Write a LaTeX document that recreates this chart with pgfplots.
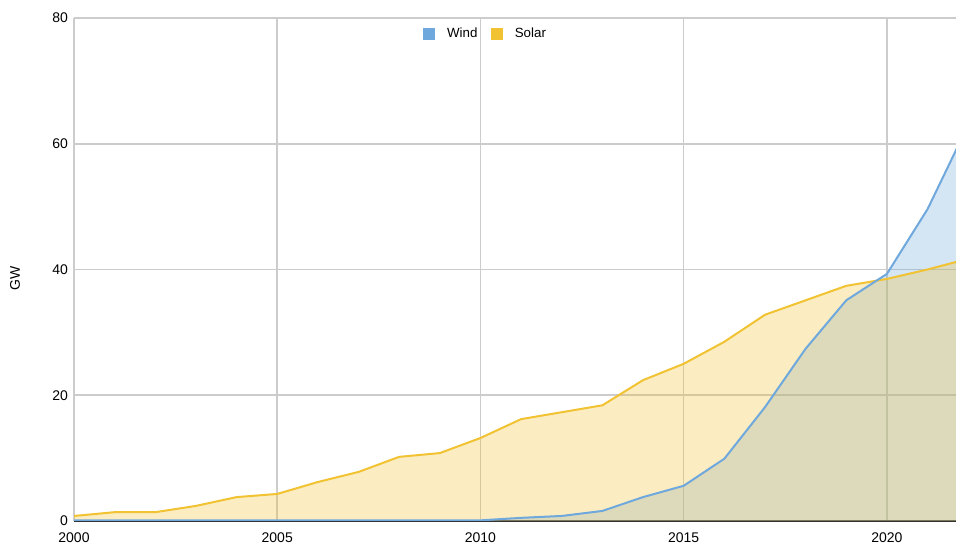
\documentclass[border=0pt]{standalone}
\usepackage{fontspec}
\setmainfont{Liberation Sans}
\usepackage{pgfplots}
\pgfplotsset{compat=1.18}
\definecolor{windc}{RGB}{111,168,220}
\definecolor{solarc}{RGB}{241,194,50}
\definecolor{gridc}{RGB}{204,204,204}
\definecolor{basec}{RGB}{51,51,51}
\pgfplotstableread{
year wind solar
2000 0.1 0.8
2001 0.1 1.4
2002 0.1 1.4
2003 0.1 2.4
2004 0.1 3.8
2005 0.1 4.3
2006 0.1 6.2
2007 0.1 7.8
2008 0.1 10.2
2009 0.1 10.8
2010 0.1 13.2
2011 0.5 16.2
2012 0.8 17.3
2013 1.6 18.4
2014 3.8 22.4
2015 5.6 25.0
2016 9.9 28.5
2017 18.1 32.8
2018 27.4 35.1
2019 35.1 37.4
2020 39.3 38.5
2021 49.6 40.0
2022 63.0 41.7
}\gen
\begin{document}
\begin{tikzpicture}
\begin{axis}[
  scale only axis,
  width=661.5pt, height=377.25pt,
  xmin=2000, xmax=2021.7,
  ymin=0, ymax=80,
  xtick={2000,2005,...,2020},
  ytick={0,20,...,80},
  /pgf/number format/1000 sep={},
  /pgf/number format/assume math mode=true,
  tick label style={font=\fontsize{10.5}{12}\selectfont, text=black},
  major tick length=0pt,
  grid=major,
  grid style={gridc, line width=1.2pt},
  axis lines*=left,
  y axis line style={draw=none},
  x axis line style={basec, line width=1pt, -},
  xticklabel style={yshift=-5pt},
  yticklabel style={xshift=-1pt},
  legend style={at={(rel axis cs:0.467,0.968)}, anchor=center, draw=none, fill=none,
    legend columns=2, font=\fontsize{10}{12}\selectfont,
    /tikz/every even column/.append style={column sep=8pt}},
  legend cell align=left,
  clip=true,
]
\addlegendimage{legend image code/.code={\fill[windc, draw=none] (0pt,-4.5pt) rectangle (9pt,4.5pt); \path[draw=none] (0pt,0pt) -- (16pt,0pt);}}
\addlegendentry{Wind}
\addlegendimage{legend image code/.code={\fill[solarc, draw=none] (0pt,-4.5pt) rectangle (9pt,4.5pt); \path[draw=none] (0pt,0pt) -- (16pt,0pt);}}
\addlegendentry{Solar}
\addplot[draw=none, fill=windc, fill opacity=0.3, forget plot] table[x=year, y=wind] {\gen} \closedcycle;
\addplot[draw=none, fill=solarc, fill opacity=0.3, forget plot] table[x=year, y=solar] {\gen} \closedcycle;
\addplot[solarc, line width=1.5pt, forget plot] table[x=year, y=solar] {\gen};
\addplot[windc, line width=1.5pt, forget plot] table[x=year, y=wind] {\gen};
\coordinate (sw) at (rel axis cs:0,0);
\coordinate (ne) at (rel axis cs:1,1);
\coordinate (gw) at (rel axis cs:0,0.483);
\end{axis}
\node[rotate=90, font=\fontsize{10.5}{12}\selectfont] at ([xshift=-44.25pt]gw) {GW};
\pgfresetboundingbox
\path ([shift={(-55.5pt,-16.5pt)}]sw) rectangle ([shift={(0pt,13.5pt)}]ne);
\end{tikzpicture}
\end{document}
